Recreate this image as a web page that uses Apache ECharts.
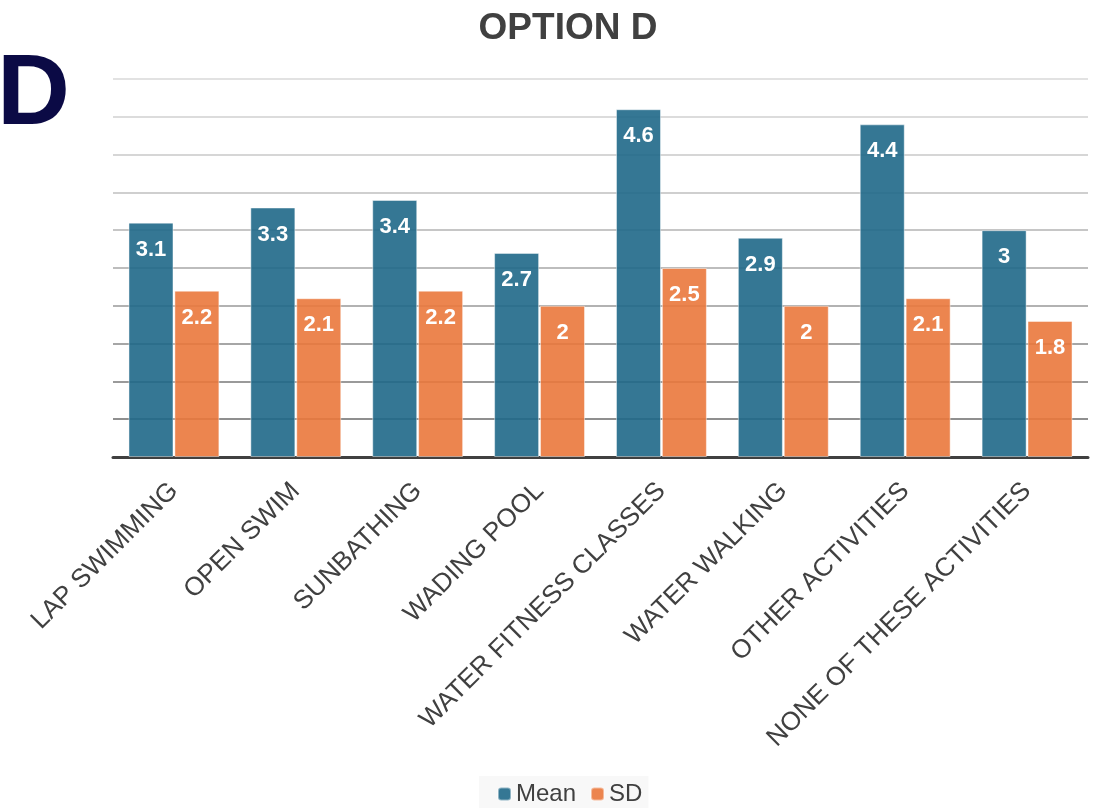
<!DOCTYPE html>
<html>
<head>
<meta charset="utf-8">
<script src="https://cdn.jsdelivr.net/npm/echarts@6/dist/echarts.min.js"></script>
<style>html,body{margin:0;padding:0;background:#fff;}#c{width:1100px;height:808px;}</style>
</head>
<body>
<div id="c"></div>
<script>
const categories = ["LAP SWIMMING","OPEN SWIM","SUNBATHING","WADING POOL","WATER FITNESS CLASSES","WATER WALKING","OTHER ACTIVITIES","NONE OF THESE ACTIVITIES"];
const meanValues = [3.1, 3.3, 3.4, 2.7, 4.6, 2.9, 4.4, 3];
const sdValues = [2.2, 2.1, 2.2, 2, 2.5, 2, 2.1, 1.8];
const seriesNames = ["Mean", "SD"];

const FONT = "'Liberation Sans', Arial, sans-serif";
const chart = echarts.init(document.getElementById('c'), null, {renderer: 'canvas'});
const labelStyle = {
  show: true, position: 'insideTop', distance: 16,
  color: '#ffffff', fontSize: 22, fontWeight: 'bold', fontFamily: FONT
};
chart.setOption({
  backgroundColor: '#ffffff',
  animation: false,
  title: {
    text: 'OPTION D', left: 563, top: 5, textAlign: 'center',
    textStyle: {fontSize: 37, fontWeight: 'bold', color: '#404040', fontFamily: FONT}
  },
  graphic: [{
    type: 'text', left: -3, top: 46,
    style: {text: 'D', fontSize: 101, fontWeight: 'bold', fill: '#0b0a45', fontFamily: FONT}
  }],
  legend: {
    bottom: 0, left: 479, itemWidth: 13, itemHeight: 13, itemGap: 14,
    backgroundColor: '#f8f8f8', padding: [6, 6, 2, 18],
    textStyle: {fontSize: 24, color: '#404040', fontFamily: FONT},
    data: seriesNames
  },
  grid: {left: 113, right: 12, top: 79, bottom: 351, containLabel: false},
  xAxis: {
    type: 'category', data: categories,
    axisLine: {lineStyle: {color: '#404040', width: 3}},
    axisTick: {show: false},
    axisLabel: {rotate: 45, margin: 30, fontSize: 26, color: '#404040', fontFamily: FONT, interval: 0}
  },
  yAxis: {
    type: 'value', min: 0, max: 5, interval: 0.5,
    axisLabel: {show: false}, axisLine: {show: false}, axisTick: {show: false},
    splitLine: {lineStyle: {width: 2, color: ['#8a8a8a','#8f8f8f','#9a9a9a','#a6a6a6','#b2b2b2','#bdbdbd','#c6c6c6','#cfcfcf','#d6d6d6','#dcdcdc','#e2e2e2']}}
  },
  series: [
    {
      name: seriesNames[0], type: 'bar', data: meanValues, barWidth: 45, barGap: '2%',
      itemStyle: {color: 'rgba(31,104,136,0.9)', borderColor: 'rgba(255,255,255,0.45)', borderWidth: 1},
      label: labelStyle
    },
    {
      name: seriesNames[1], type: 'bar', data: sdValues, barWidth: 45,
      itemStyle: {color: 'rgba(234,120,60,0.9)', borderColor: 'rgba(255,255,255,0.45)', borderWidth: 1},
      label: labelStyle
    }
  ]
});
</script>
</body>
</html>
